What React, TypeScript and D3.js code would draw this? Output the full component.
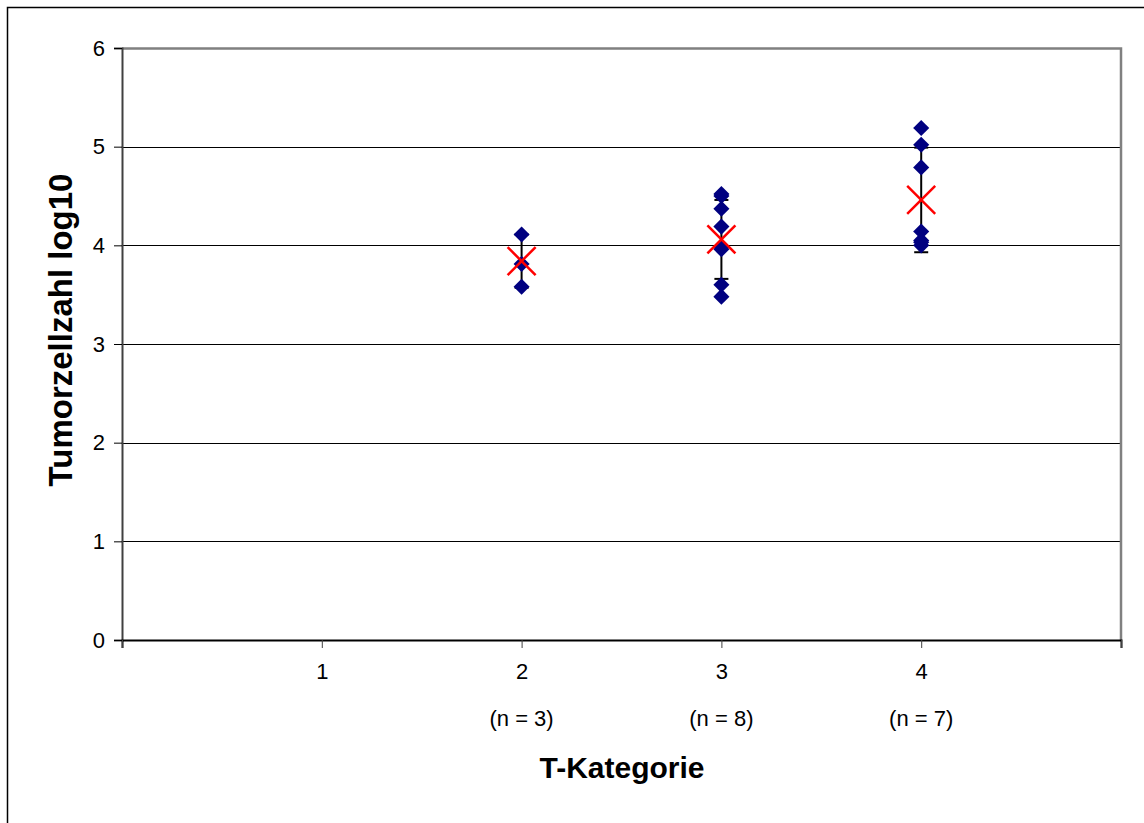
import React, { useEffect, useRef } from "react";
import * as d3 from "d3";

const categories = [1, 2, 3, 4];
const groupLabels = ["", "(n = 3)", "(n = 8)", "(n = 7)"];
const yTicks = [0, 1, 2, 3, 4, 5, 6];

// individual values per T-category
const pointsT2 = [4.11, 3.81, 3.58];
const pointsT3 = [4.52, 4.5, 4.37, 4.19, 3.98, 3.96, 3.6, 3.48];
const pointsT4 = [5.19, 5.02, 4.79, 4.14, 4.05, 4.03, 4.0];

// mean and standard deviation per category
const meanCats = [2, 3, 4];
const means = [3.84, 4.06, 4.46];
const sds = [0.27, 0.4, 0.53];

const W = 1144;
const H = 823;

const App = () => {
  const ref = useRef<SVGSVGElement>(null);

  useEffect(() => {
    if (!ref.current) return;
    const svg = d3.select(ref.current);
    svg.selectAll("*").remove();

    const left = 122, right = 1121, top = 48, bottom = 640;
    const font = "'Liberation Sans', Arial, sans-serif";

    const x = d3.scaleLinear().domain([0, 5]).range([left, right]);
    const y = d3.scaleLinear().domain([0, 6]).range([bottom, top]);

    svg.append("rect")
      .attr("width", W).attr("height", H).attr("fill", "#fff");

    // outer chart frame
    svg.append("rect")
      .attr("x", 7.5).attr("y", 7.5)
      .attr("width", W + 20).attr("height", H + 20)
      .attr("fill", "none").attr("stroke", "#000").attr("stroke-width", 1.5);

    // gridlines
    svg.append("g")
      .selectAll("line")
      .data(yTicks.filter(d => d > 0 && d < 6))
      .join("line")
      .attr("x1", left).attr("x2", right)
      .attr("y1", d => Math.round(y(d)) + 0.5).attr("y2", d => Math.round(y(d)) + 0.5)
      .attr("stroke", "#000").attr("stroke-width", 1);

    // plot area border (top / right)
    svg.append("path")
      .attr("d", `M${left},${top + 0.5} H${right} V${bottom}`)
      .attr("fill", "none").attr("stroke", "#808080").attr("stroke-width", 2.5);

    // y axis
    const yAxis = d3.axisLeft(y).tickValues(yTicks).tickSize(8).tickPadding(9)
      .tickFormat(d3.format("d"));
    const gy = svg.append("g")
      .attr("transform", `translate(${left},0)`)
      .call(yAxis);
    gy.select(".domain").attr("stroke", "#404040").attr("stroke-width", 2);
    gy.selectAll(".tick line").attr("stroke", "#000");
    gy.selectAll("text").attr("font-family", font).attr("font-size", 22).attr("fill", "#000");

    // x axis
    const xAxis = d3.axisBottom(x).tickValues([0, 1, 2, 3, 4, 5]).tickSize(8).tickPadding(15)
      .tickFormat(d => (categories.includes(+d) ? String(d) : ""));
    const gx = svg.append("g")
      .attr("transform", `translate(0,${bottom})`)
      .call(xAxis);
    gx.select(".domain").attr("stroke", "#000").attr("stroke-width", 2);
    gx.selectAll(".tick line").attr("stroke", "#404040");
    gx.selectAll("text").attr("font-family", font).attr("font-size", 22).attr("fill", "#000");

    // n labels
    svg.append("g")
      .selectAll("text")
      .data(categories)
      .join("text")
      .attr("x", d => x(d))
      .attr("y", 726)
      .attr("text-anchor", "middle")
      .attr("font-family", font).attr("font-size", 22)
      .text((d, i) => groupLabels[i]);

    // axis titles
    svg.append("text")
      .attr("x", 622).attr("y", 778)
      .attr("text-anchor", "middle")
      .attr("font-family", font).attr("font-size", 30).attr("font-weight", "bold")
      .text("T-Kategorie");

    svg.append("text")
      .attr("transform", `translate(72,330) rotate(-90)`)
      .attr("text-anchor", "middle")
      .attr("font-family", font).attr("font-size", 33).attr("font-weight", "bold")
      .text("Tumorzellzahl log10");

    // error bars
    const eb = svg.append("g").attr("stroke", "#000").attr("stroke-width", 2);
    meanCats.forEach((c, i) => {
      const cx = x(c);
      const y1 = y(means[i] + sds[i]);
      const y2 = y(means[i] - sds[i]);
      eb.append("line").attr("x1", cx).attr("x2", cx).attr("y1", y1).attr("y2", y2);
      eb.append("line").attr("x1", cx - 7).attr("x2", cx + 7).attr("y1", y1).attr("y2", y1);
      eb.append("line").attr("x1", cx - 7).attr("x2", cx + 7).attr("y1", y2).attr("y2", y2);
    });

    // data points (diamonds)
    const pts = [
      ...pointsT2.map(v => ({ c: 2, v })),
      ...pointsT3.map(v => ({ c: 3, v })),
      ...pointsT4.map(v => ({ c: 4, v })),
    ];
    const diamond = d3.symbol().type(d3.symbolDiamond2).size(165);
    svg.append("g")
      .selectAll("path")
      .data(pts)
      .join("path")
      .attr("transform", d => `translate(${x(d.c)},${y(d.v)})`)
      .attr("d", diamond)
      .attr("fill", "#000080");

    // means (red X)
    const mx = svg.append("g").attr("stroke", "#ff0000").attr("stroke-width", 2.5);
    meanCats.forEach((c, i) => {
      const cx = x(c), cy = y(means[i]), r = 14;
      mx.append("line").attr("x1", cx - r).attr("y1", cy - r).attr("x2", cx + r).attr("y2", cy + r);
      mx.append("line").attr("x1", cx - r).attr("y1", cy + r).attr("x2", cx + r).attr("y2", cy - r);
    });
  }, []);

  return <svg ref={ref} width={W} height={H} style={{ position: "absolute", left: 0, top: 0 }} />;
};

export default App;
